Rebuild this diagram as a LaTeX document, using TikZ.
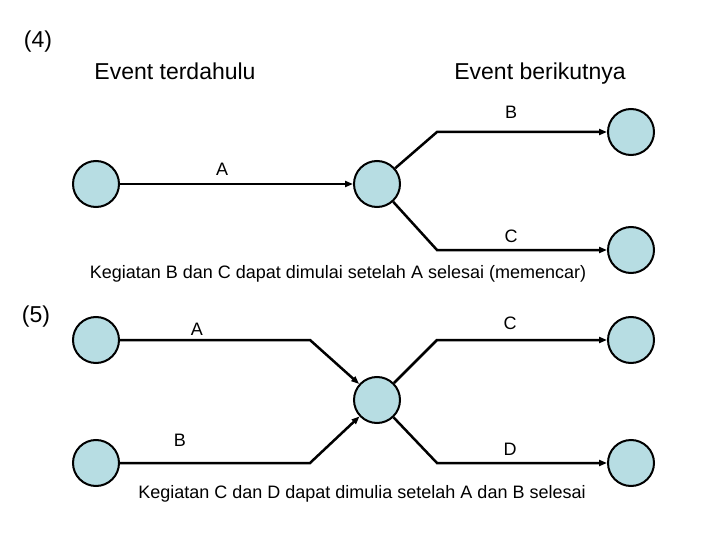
\documentclass[tikz,border=0pt]{standalone}
\usepackage{fontspec}
\setmainfont{Liberation Sans}
\usetikzlibrary{arrows.meta}
\begin{document}
\begin{tikzpicture}[x=1pt,y=-1pt,
  ev/.style={circle,draw=black,line width=2pt,fill={rgb,255:red,183;green,221;blue,227},minimum size=46pt,inner sep=0pt},
  act/.style={line width=2.5pt,-{Triangle[length=8pt,width=6pt]}},
  lab/.style={font=\fontsize{18}{21}\selectfont,anchor=base},
  big/.style={font=\fontsize{23}{27}\selectfont,anchor=base}]
\useasboundingbox (0,0) rectangle (720,540);
\node[big] (t4) at (38,48) {(4)};
\node[big] (h1) at (175,80) {Event terdahulu};
\node[big] (h2) at (540,80) {Event berikutnya};
\node[ev] (a1) at (96,184) {};
\node[ev] (a2) at (377,184) {};
\node[ev] (a3) at (631,132) {};
\node[ev] (a4) at (631,250) {};
\coordinate (kb) at (437,132);
\coordinate (kc) at (437,250);
\draw[act] (a1) -- (a2);
\draw[act] (a2) -- (kb) -- (a3);
\draw[act] (a2) -- (kc) -- (a4);
\node[lab] (lb) at (511,119) {B};
\node[lab] (la) at (222,176) {A};
\node[lab] (lc) at (511,243) {C};
\node[lab] (cap1) at (338,278) {Kegiatan B dan C dapat dimulai setelah A selesai (memencar)};
\node[big] (t5) at (36,322) {(5)};
\node[ev] (b1) at (96,340) {};
\node[ev] (b2) at (96,463) {};
\node[ev] (b3) at (377,400) {};
\node[ev] (b4) at (631,340) {};
\node[ev] (b5) at (631,463) {};
\coordinate (ka) at (310,340);
\coordinate (kbb) at (310,463);
\coordinate (kcc) at (437,340);
\coordinate (kd) at (437,463);
\draw[act] (b1) -- (ka) -- (b3);
\draw[act] (b2) -- (kbb) -- (b3);
\draw[act] (b3) -- (kcc) -- (b4);
\draw[act] (b3) -- (kd) -- (b5);
\node[lab] (la5) at (197,335) {A};
\node[lab] (lc5) at (510,329) {C};
\node[lab] (lb5) at (180,446) {B};
\node[lab] (ld5) at (510,455) {D};
\node[lab] (cap2) at (362,498) {Kegiatan C dan D dapat dimulia setelah A dan B selesai};
\end{tikzpicture}
\end{document}
